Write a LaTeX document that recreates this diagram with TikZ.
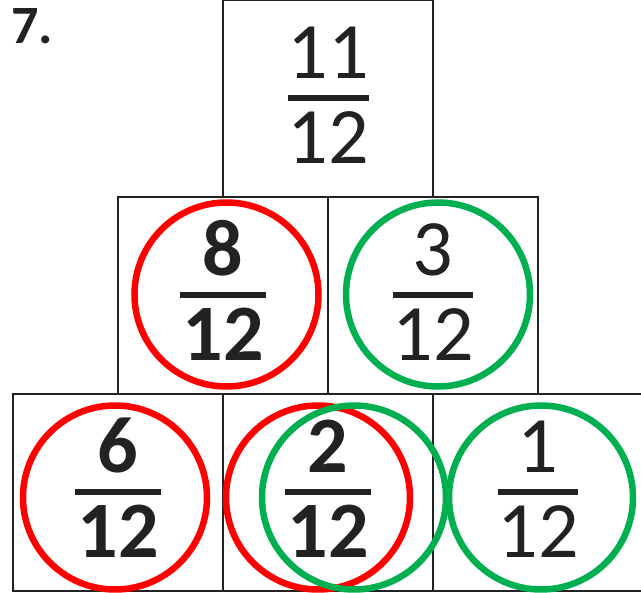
\documentclass[tikz,border=0pt]{standalone}
\usepackage{fontspec}
\setmainfont{Carlito}
\usetikzlibrary{positioning,calc}
\definecolor{ringred}{RGB}{255,0,0}
\definecolor{ringgreen}{RGB}{0,176,80}
\definecolor{inkgray}{RGB}{34,34,34}

\tikzset{
  cell/.style={draw=inkgray,line width=2.5pt,minimum width=210pt,
    minimum height=197pt,inner sep=0pt,outer sep=0pt},
  plainnum/.style={font=\fontsize{80}{80}\selectfont,text=inkgray,inner sep=0pt},
  boldnum/.style={font=\bfseries\fontsize{80}{80}\selectfont,text=inkgray,inner sep=0pt},
  ring/.style={draw=#1,line width=6.5pt}
}

% fraction inside a cell: cell, numerator, denominator, bar width, style
\newcommand{\cellfrac}[5]{%
  \node[#5,anchor=base] (#1-num) at ($(#1.center)+(0,-20)$) {#2};
  \node[#5,anchor=base] (#1-den) at ($(#1.center)+(0,65)$) {#3};
  \draw[line width=6pt,inkgray] ($(#1.center)+(-#4/2,0)$) -- ($(#1.center)+(#4/2,0)$);
}

\begin{document}
\begin{tikzpicture}[x=1pt,y=-1pt]
  \useasboundingbox (0,0) rectangle (641,593);
  \node[font=\bfseries\fontsize{54}{54}\selectfont,text=inkgray,anchor=base west,inner sep=0pt]
    (label) at (11,44) {7.};

  % pyramid cells
  \node[cell] (top) at (328,98.5) {};
  \node[cell,below left=0pt and 0pt of top.south] (midl) {};
  \node[cell,below right=0pt and 0pt of top.south] (midr) {};
  \node[cell,below=0pt of midl.south east] (botc) {};
  \node[cell,left=0pt of botc] (botl) {};
  \node[cell,right=0pt of botc] (botr) {};

  \cellfrac{top}{11}{12}{81}{plainnum}
  \cellfrac{midl}{8}{12}{86}{boldnum}
  \cellfrac{midr}{3}{12}{80}{plainnum}
  \cellfrac{botl}{6}{12}{86}{boldnum}
  \cellfrac{botc}{2}{12}{86}{boldnum}
  \cellfrac{botr}{1}{12}{80}{plainnum}

  % rings
  \draw[ring=ringred] ($(midl.center)+(3.5,-1)$) circle[radius=92];
  \draw[ring=ringred] ($(botl.center)+(-3,5)$) circle[radius=92];
  \draw[ring=ringred] ($(botc.center)+(-10,5)$) circle[radius=92];
  \draw[ring=ringgreen] ($(midr.center)+(5,-1)$) circle[radius=92];
  \draw[ring=ringgreen] ($(botc.center)+(26,5)$) circle[radius=92];
  \draw[ring=ringgreen] ($(botr.center)+(3,5)$) circle[radius=92];
\end{tikzpicture}
\end{document}
